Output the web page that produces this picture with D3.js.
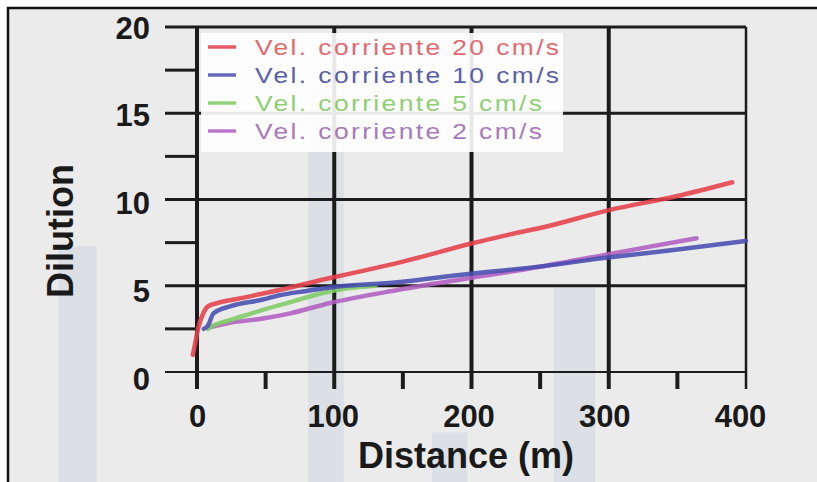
<!DOCTYPE html>
<html><head><meta charset="utf-8">
<script src="https://cdn.jsdelivr.net/npm/d3@7"></script>
<style>
body{margin:0;background:#fff;}
svg{display:block;font-family:"Liberation Sans",Arial,Helvetica,sans-serif;}
</style>
</head><body>
<svg id="c" width="817" height="482"></svg>
<script>
// ---- data ----
const xTicks = [0, 100, 200, 300, 400];
const xMinor = [50, 150, 250, 350];
const yTicks = [0, 5, 10, 15, 20];
const yMinor = [2.5, 7.5, 12.5, 17.5];
const seriesNames = ["Vel. corriente 20 cm/s", "Vel. corriente 10 cm/s", "Vel. corriente 5 cm/s", "Vel. corriente 2 cm/s"];

const dist20 = [-3, -1, 1, 4, 8, 15, 30, 60, 97, 120, 150, 200, 235, 250, 301, 350, 390];
const dil20  = [1.0, 1.8, 2.6, 3.3, 3.8, 4.0, 4.25, 4.75, 5.45, 5.85, 6.4, 7.45, 8.1, 8.35, 9.4, 10.2, 11.0];

const dist10 = [5, 8, 12, 24, 48, 60, 80, 97, 146, 199, 243, 301, 350, 400];
const dil10  = [2.5, 2.7, 3.4, 3.8, 4.2, 4.45, 4.7, 4.9, 5.2, 5.7, 6.05, 6.65, 7.1, 7.6];

const dist5 = [8, 12, 24, 48, 68, 90, 110, 130];
const dil5  = [2.5, 2.7, 3.0, 3.6, 4.05, 4.55, 4.85, 5.0];

const dist2 = [10, 24, 48, 68, 97, 146, 199, 250, 308, 364];
const dil2  = [2.6, 2.85, 3.1, 3.4, 4.0, 4.75, 5.45, 6.1, 6.95, 7.75];

// ---- drawing ----
const svg = d3.select("#c");
const lineColors = ["#e6404c", "#4a50b2", "#7fcc66", "#b060c0"];
const textColors = ["#e4686f", "#5a5fa6", "#8ecf73", "#a979bb"];

const x = d3.scaleLinear().domain([0, 400]).range([197, 746]);
const y = d3.scaleLinear().domain([0, 20]).range([372, 27]);
// label placement scales (labels in the scan are slightly offset from ticks)
const xl = d3.scaleLinear().domain([0, 400]).range([197, 740]);
const yl = d3.scaleLinear().domain([0, 20]).range([378, 27]);

// frame
svg.append("rect").attr("x", 8).attr("y", 8).attr("width", 830).attr("height", 500)
  .attr("fill", "#ebebeb").attr("stroke", "#111").attr("stroke-width", 2.5);

// faint scan bands
const bandG = svg.append("g").attr("fill", "#dce0e5");
[[-101, -73, 7.3], [81, 107, 16.5], [171, 197, -3.5], [260, 290, 4.9]].forEach(b => {
  bandG.append("rect").attr("x", x(b[0])).attr("width", x(b[1]) - x(b[0]))
    .attr("y", y(b[2])).attr("height", 482 - y(b[2]));
});

const grid = svg.append("g").attr("stroke", "#1c1c1c");
// horizontal major lines
grid.selectAll(".hy").data(yTicks).join("line")
  .attr("x1", 165).attr("x2", x(400))
  .attr("y1", d => y(d)).attr("y2", d => y(d))
  .attr("stroke-width", d => d === 0 ? 2 : 3);
// minor y ticks
grid.selectAll(".my").data(yMinor).join("line")
  .attr("x1", 165).attr("x2", x(0))
  .attr("y1", d => y(d)).attr("y2", d => y(d))
  .attr("stroke-width", 3);
// vertical lines
grid.selectAll(".vx").data(xTicks).join("line")
  .attr("x1", d => x(d)).attr("x2", d => x(d))
  .attr("y1", y(20)).attr("y2", y(0) + 17)
  .attr("stroke-width", d => d === 400 ? 2.5 : 4);
// minor x ticks
grid.selectAll(".mx").data(xMinor).join("line")
  .attr("x1", d => x(d)).attr("x2", d => x(d))
  .attr("y1", y(0)).attr("y2", y(0) + 17)
  .attr("stroke-width", 4);

// legend box
svg.append("rect").attr("x", x(0) + 4).attr("y", 33).attr("width", 362).attr("height", 119)
  .attr("fill", "#ffffff").attr("opacity", 0.9);

// series
const series = [
  {n: seriesNames[0], xs: dist20, ys: dil20, c: 0},
  {n: seriesNames[1], xs: dist10, ys: dil10, c: 1},
  {n: seriesNames[2], xs: dist5, ys: dil5, c: 2},
  {n: seriesNames[3], xs: dist2, ys: dil2, c: 3}
];
const line = d3.line().x(d => x(d[0])).y(d => y(d[1])).curve(d3.curveMonotoneX);
const drawOrder = [3, 2, 1, 0];
const defs = svg.append("defs");
defs.append("filter").attr("id", "blur").append("feGaussianBlur").attr("stdDeviation", 0.6);
drawOrder.forEach(i => {
  const s = series[i];
  svg.append("path").datum(s.xs.map((v, k) => [v, s.ys[k]]))
    .attr("d", line).attr("fill", "none")
    .attr("stroke", lineColors[s.c]).attr("stroke-width", 4.5)
    .attr("stroke-linecap", "round").attr("stroke-linejoin", "round")
    .attr("opacity", 0.88).attr("filter", "url(#blur)");
});

// legend entries
const lg = svg.append("g");
series.forEach((s, i) => {
  const cy = 47 + i * 28;
  lg.append("line").attr("x1", 208).attr("x2", 236).attr("y1", cy).attr("y2", cy)
    .attr("stroke", lineColors[i]).attr("stroke-width", 3.5).attr("opacity", 0.85);
  lg.append("g").attr("transform", `translate(255,${cy + 8}) scale(1.2,1)`)
    .append("text").text(s.n)
    .attr("font-size", 22).attr("letter-spacing", 2)
    .attr("fill", textColors[i]);
});

// tick labels via axes
const xAx = svg.append("g").attr("transform", "translate(0,404)")
  .call(d3.axisBottom(xl).tickValues(xTicks).tickSize(0).tickPadding(0).tickFormat(d3.format("d")));
xAx.select(".domain").remove();
xAx.selectAll("text").attr("font-size", 31).attr("font-weight", "bold").attr("fill", "#1a1a1a")
  .attr("dy", "0.75em").attr("font-family", '"Liberation Sans",Arial,sans-serif');

const yAx = svg.append("g").attr("transform", "translate(150,0)")
  .call(d3.axisLeft(yl).tickValues(yTicks).tickSize(0).tickPadding(0).tickFormat(d3.format("d")));
yAx.select(".domain").remove();
yAx.selectAll("text").attr("font-size", 31).attr("font-weight", "bold").attr("fill", "#1a1a1a")
  .attr("dy", "0.36em").attr("font-family", '"Liberation Sans",Arial,sans-serif');

// axis titles
svg.append("text").attr("x", 466).attr("y", 468).attr("text-anchor", "middle")
  .attr("font-size", 36).attr("font-weight", "bold").attr("fill", "#1a1a1a")
  .text("Distance (m)");
svg.append("text").attr("transform", "translate(73,231) rotate(-90)").attr("text-anchor", "middle")
  .attr("font-size", 36).attr("font-weight", "bold").attr("fill", "#1a1a1a")
  .text("Dilution");
</script>
</body></html>
